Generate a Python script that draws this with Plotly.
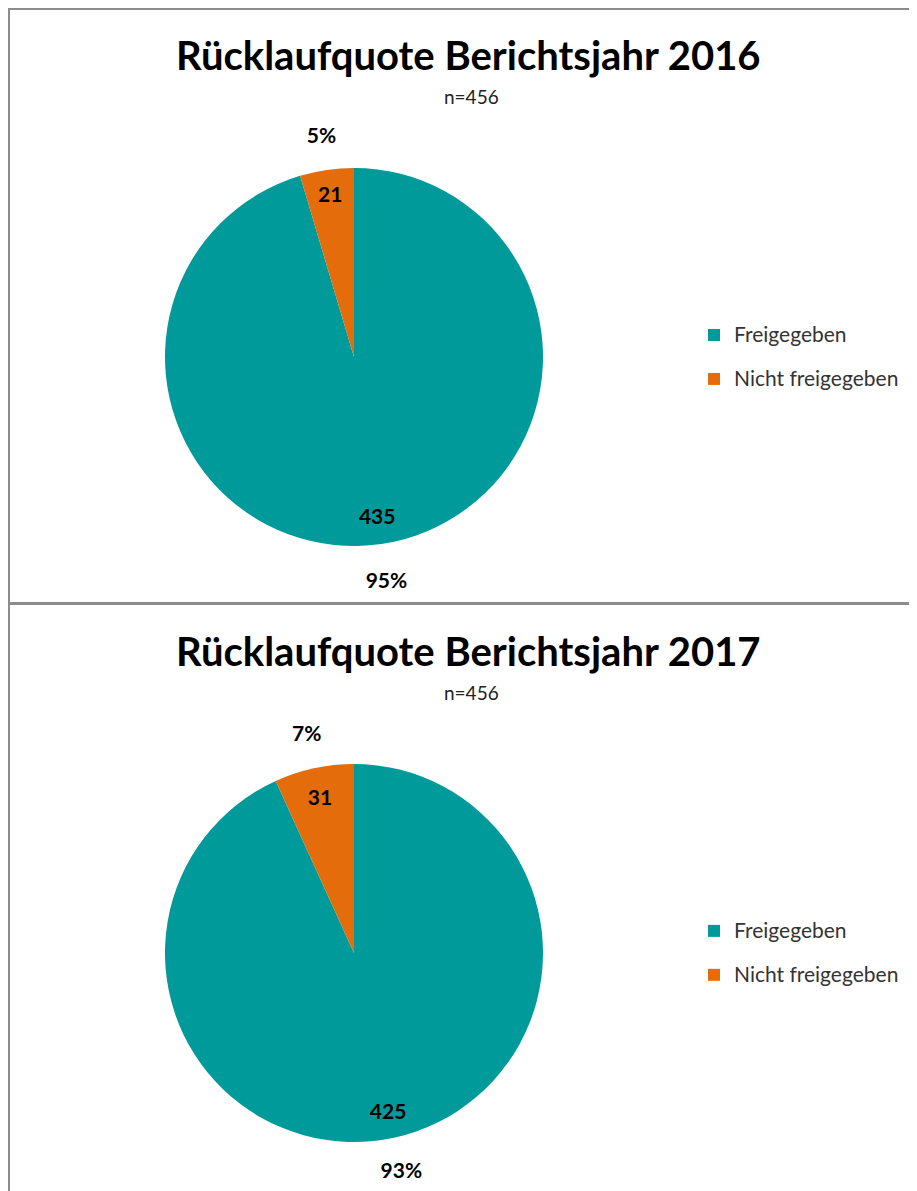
import plotly.graph_objects as go

# ---- data ----
categories = ["Freigegeben", "Nicht freigegeben"]
values_2016 = [435, 21]
values_2017 = [425, 31]
years = ["2016", "2017"]
n_totals = [456, 456]
colors = ["#009A9A", "#E46C0A"]

# ---- layout constants (page pixels; the page body adds an 8px offset) ----
W, H = 917, 1191
OFF = 8
FONT = "Lato"
R = 189          # pie radius (px)
R_PCT = 250      # radius of the transparent ring carrying the percent labels
centers = [(354, 357), (354, 953)]
title_y = [55, 651]
sub_y = [97, 692]


def px(x):
    return (x - OFF) / W


def py(y):
    return (H - (y - OFF)) / H


def dom(cx, cy, r):
    return dict(x=[px(cx - r), px(cx + r)], y=[max(0, py(cy + r)), py(cy - r)])


legend_labels = ['<span style="font-size:21px;baseline-shift:5px">' + c + "</span>" for c in categories]

fig = go.Figure()
transparent = ["rgba(0,0,0,0)"] * len(categories)

for i, vals in enumerate([values_2016, values_2017]):
    cx, cy = centers[i]
    # coloured pie
    fig.add_trace(go.Pie(
        labels=legend_labels, values=vals, sort=False, direction="clockwise",
        rotation=0, domain=dom(cx, cy, R), marker=dict(colors=colors, line=dict(width=0)),
        textinfo="none", legendgroup="g" + years[i], showlegend=True,
        customdata=categories, hovertemplate="%{customdata}: %{value} (%{percent})<extra></extra>",
    ))
    # counts, placed near the outer edge (inside end)
    fig.add_trace(go.Pie(
        labels=legend_labels, values=vals, sort=False, direction="clockwise",
        rotation=0, domain=dom(cx, cy, R), hole=0.70,
        marker=dict(colors=transparent, line=dict(width=0)),
        textinfo="value", textposition="inside", insidetextorientation="horizontal",
        textfont=dict(family=FONT, size=21, color="black", weight="bold"),
        showlegend=False, hoverinfo="skip",
    ))
    # percentages, just outside the pie (transparent outer ring)
    fig.add_trace(go.Pie(
        labels=legend_labels, values=vals, sort=False, direction="clockwise",
        rotation=0, domain=dom(cx, cy, R_PCT), hole=0.80,
        marker=dict(colors=transparent, line=dict(width=0)),
        texttemplate="%{percent:.0%}", textposition="inside", insidetextorientation="horizontal",
        textfont=dict(family=FONT, size=21, color="black", weight="bold"),
        showlegend=False, hoverinfo="skip",
    ))

annotations = []
for i in range(2):
    annotations.append(dict(
        text="<b>Rücklaufquote Berichtsjahr " + years[i] + "</b>",
        x=px(469), y=py(title_y[i]), xref="paper", yref="paper",
        xanchor="center", yanchor="middle", showarrow=False,
        font=dict(family=FONT, size=40, color="black"),
    ))
    annotations.append(dict(
        text="n=" + str(n_totals[i]),
        x=px(471), y=py(sub_y[i]), xref="paper", yref="paper",
        xanchor="center", yanchor="middle", showarrow=False,
        font=dict(family=FONT, size=19, color="#222222"),
    ))

GRAY = "#8c8c8c"
shapes = [
    dict(type="line", xref="paper", yref="paper", x0=1 / W, x1=1 / W, y0=0, y1=1,
         line=dict(color=GRAY, width=2)),
    dict(type="line", xref="paper", yref="paper", x0=0, x1=1, y0=(H - 1) / H, y1=(H - 1) / H,
         line=dict(color=GRAY, width=2)),
    dict(type="line", xref="paper", yref="paper", x0=0, x1=1, y0=py(603.5), y1=py(603.5),
         line=dict(color=GRAY, width=3)),
]

fig.update_layout(
    width=W, height=H,
    margin=dict(l=0, r=0, t=0, b=0),
    paper_bgcolor="white", plot_bgcolor="white",
    annotations=annotations, shapes=shapes,
    legend=dict(
        x=px(694), xanchor="left", y=py(308), yanchor="top",
        font=dict(family=FONT, size=31.5, color="#333333"),
        bgcolor="rgba(0,0,0,0)", traceorder="grouped", tracegroupgap=508,
    ),
    font=dict(family=FONT),
)

fig.write_html("out.html")
